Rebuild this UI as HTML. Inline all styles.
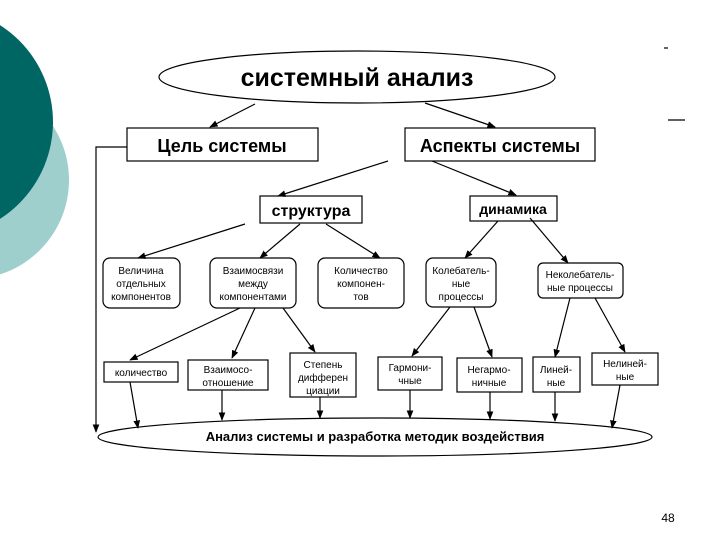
<!DOCTYPE html>
<html><head><meta charset="utf-8"><style>
html,body{margin:0;padding:0;background:#fff;}
svg{display:block;}
text{font-family:"Liberation Sans",sans-serif;fill:#000;}
</style></head><body>
<svg width="720" height="540" viewBox="0 0 720 540" xmlns="http://www.w3.org/2000/svg">
<defs><marker id="a" viewBox="0 0 10 10" refX="9" refY="5" markerWidth="7" markerHeight="7" orient="auto"><path d="M0,1 L10,5 L0,9 z" fill="#000"/></marker></defs>
<circle cx="-30" cy="180" r="99" fill="#9fcfcc"/>
<circle cx="-62" cy="122" r="115" fill="#006664"/>
<g stroke="#000" stroke-width="1.2" fill="none">
<ellipse cx="357" cy="77" rx="198" ry="26" fill="#fff"/>
<rect x="127" y="128" width="191" height="33" fill="#fff"/>
<rect x="405" y="128" width="190" height="33" fill="#fff"/>
<rect x="260" y="196" width="102" height="27" fill="#fff"/>
<rect x="470" y="196" width="87" height="25" fill="#fff"/>
<rect x="103" y="258" width="77" height="50" rx="7" fill="#fff"/>
<rect x="210" y="258" width="86" height="50" rx="7" fill="#fff"/>
<rect x="318" y="258" width="86" height="50" rx="7" fill="#fff"/>
<rect x="426" y="258" width="70" height="49" rx="7" fill="#fff"/>
<rect x="538" y="263" width="85" height="35" rx="5" fill="#fff"/>
<rect x="104" y="362" width="74" height="20" fill="#fff"/>
<rect x="188" y="360" width="80" height="30" fill="#fff"/>
<rect x="290" y="353" width="66" height="44" fill="#fff"/>
<rect x="378" y="357" width="64" height="33" fill="#fff"/>
<rect x="457" y="358" width="65" height="34" fill="#fff"/>
<rect x="533" y="357" width="47" height="35" fill="#fff"/>
<rect x="592" y="353" width="66" height="32" fill="#fff"/>
<ellipse cx="375" cy="437" rx="277" ry="19" fill="#fff"/>
<g marker-end="url(#a)">
<line x1="255" y1="104" x2="210" y2="127"/>
<line x1="425" y1="103" x2="495" y2="127"/>
<line x1="388" y1="161" x2="278" y2="196"/>
<line x1="432" y1="161" x2="516" y2="195"/>
<line x1="245" y1="224" x2="138" y2="258"/>
<line x1="300" y1="224" x2="260" y2="258"/>
<line x1="326" y1="224" x2="380" y2="258"/>
<line x1="498" y1="221" x2="465" y2="258"/>
<line x1="530" y1="218" x2="568" y2="263"/>
<line x1="240" y1="308" x2="130" y2="360"/>
<line x1="255" y1="308" x2="232" y2="358"/>
<line x1="283" y1="308" x2="315" y2="352"/>
<line x1="450" y1="307" x2="412" y2="356"/>
<line x1="474" y1="307" x2="492" y2="357"/>
<line x1="570" y1="298" x2="555" y2="357"/>
<line x1="595" y1="298" x2="625" y2="352"/>
<line x1="130" y1="382" x2="138" y2="428"/>
<line x1="222" y1="390" x2="222" y2="420"/>
<line x1="320" y1="397" x2="320" y2="418"/>
<line x1="410" y1="390" x2="410" y2="418"/>
<line x1="490" y1="392" x2="490" y2="419"/>
<line x1="555" y1="392" x2="555" y2="421"/>
<line x1="620" y1="385" x2="612" y2="428"/>
<polyline points="127,147 96,147 96,432"/>
</g>
<line x1="664" y1="48" x2="668" y2="48"/>
<line x1="668" y1="120" x2="685" y2="120"/>
</g>
<text x="357" y="86" font-size="25" font-weight="bold" text-anchor="middle">системный анализ</text>
<text x="222" y="152" font-size="18" font-weight="bold" text-anchor="middle">Цель системы</text>
<text x="500" y="152" font-size="18" font-weight="bold" text-anchor="middle">Аспекты системы</text>
<text x="311" y="216" font-size="16" font-weight="bold" text-anchor="middle">структура</text>
<text x="513" y="214" font-size="14" font-weight="bold" text-anchor="middle">динамика</text>
<g font-size="10" text-anchor="middle">
<text x="141" y="274">Величина</text><text x="141" y="287">отдельных</text><text x="141" y="300">компонентов</text>
<text x="253" y="274">Взаимосвязи</text><text x="253" y="287">между</text><text x="253" y="300">компонентами</text>
<text x="361" y="274">Количество</text><text x="361" y="287">компонен-</text><text x="361" y="300">тов</text>
<text x="461" y="274">Колебатель-</text><text x="461" y="287">ные</text><text x="461" y="300">процессы</text>
<text x="580" y="278">Неколебатель-</text><text x="580" y="291">ные процессы</text>
<text x="141" y="376">количество</text>
<text x="228" y="373">Взаимосо-</text><text x="228" y="386">отношение</text>
<text x="323" y="368">Степень</text><text x="323" y="381">дифферен</text><text x="323" y="394">циации</text>
<text x="410" y="371">Гармони-</text><text x="410" y="384">чные</text>
<text x="489" y="373">Негармо-</text><text x="489" y="386">ничные</text>
<text x="556" y="373">Линей-</text><text x="556" y="386">ные</text>
<text x="625" y="367">Нелиней-</text><text x="625" y="380">ные</text>
</g>
<text x="375" y="441" font-size="13" font-weight="bold" text-anchor="middle">Анализ системы и разработка методик воздействия</text>
<text x="668" y="522" font-size="12" text-anchor="middle">48</text>
</svg>
</body></html>
